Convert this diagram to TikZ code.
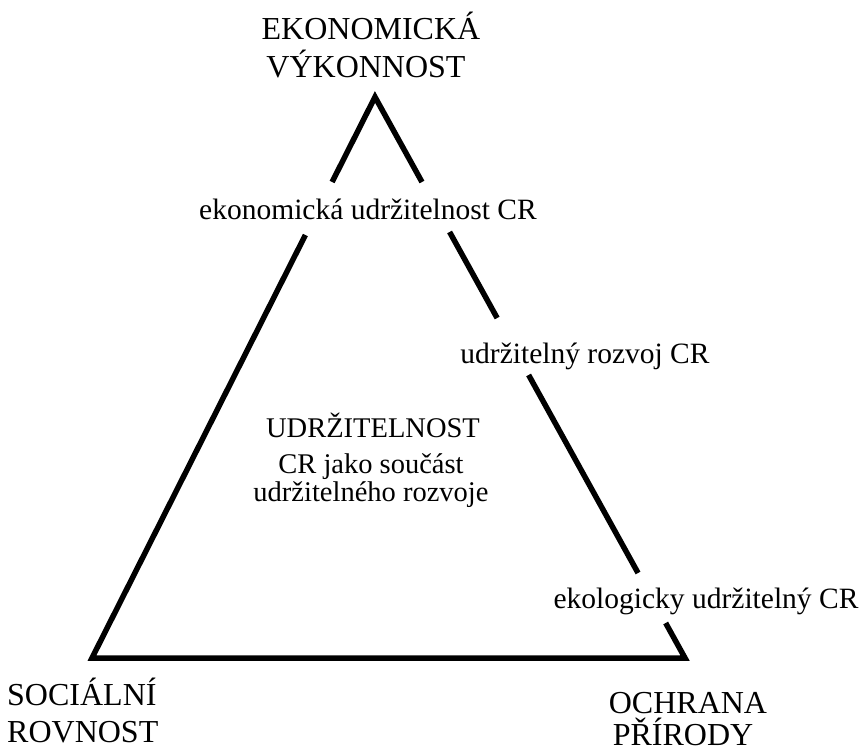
\documentclass[tikz,border=0pt]{standalone}
\usepackage{fontspec}
\setmainfont{Liberation Serif}
\usetikzlibrary{calc}
\begin{document}
\begin{tikzpicture}[x=1pt,y=-1pt,
  side/.style={line width=5.5pt, line join=miter},
  corner/.style={font=\fontsize{32}{38}\selectfont, anchor=base, inner sep=0pt},
  edgelabel/.style={font=\fontsize{29.5}{35}\selectfont, anchor=base, inner sep=0pt},
  centerlabel/.style={font=\fontsize{28.5}{34}\selectfont, anchor=base, inner sep=0pt}]
\useasboundingbox (0,0) rectangle (864,751);
% triangle corners
\coordinate (A) at (375,97);
\coordinate (B) at (92,658);
\coordinate (C) at (685,658);
% gap ends on the sides
\coordinate (L1) at ($(A)!0.1515!(B)$);
\coordinate (L2) at ($(A)!0.246!(B)$);
\coordinate (R1) at ($(A)!0.1515!(C)$);
\coordinate (R2) at ($(A)!0.2406!(C)$);
\coordinate (R3) at ($(A)!0.394!(C)$);
\coordinate (R4) at ($(A)!0.4955!(C)$);
\coordinate (R5) at ($(A)!0.8485!(C)$);
\coordinate (R6) at ($(A)!0.9376!(C)$);
% sides
\draw[side] (L1) -- (A) -- (R1);
\draw[side] (L2) -- (B) -- (C) -- (R6);
\draw[side] (R2) -- (R3);
\draw[side] (R4) -- (R5);
% corner labels
\node[corner] (eko1) at (371,40) {EKONOMICKÁ};
\node[corner] (eko2) at (366,78) {VÝKONNOST};
\node[corner, anchor=base west] (soc1) at (7,705) {SOCIÁLNÍ};
\node[corner, anchor=base west] (soc2) at (7,742) {ROVNOST};
\node[corner] (och1) at (688,713) {OCHRANA};
\node[corner] (och2) at (683,745) {PŘÍRODY};
% side labels
\node[edgelabel] (lab1) at (368,220) {ekonomická udržitelnost CR};
\node[edgelabel] (lab2) at (585,363) {udržitelný rozvoj CR};
\node[edgelabel] (lab3) at (706,608) {ekologicky udržitelný CR};
% centre labels
\node[centerlabel] (c1) at (373,437) {UDRŽITELNOST};
\node[centerlabel] (c2) at (371,473) {CR jako součást};
\node[centerlabel] (c3) at (371,501) {udržitelného rozvoje};
\end{tikzpicture}
\end{document}
